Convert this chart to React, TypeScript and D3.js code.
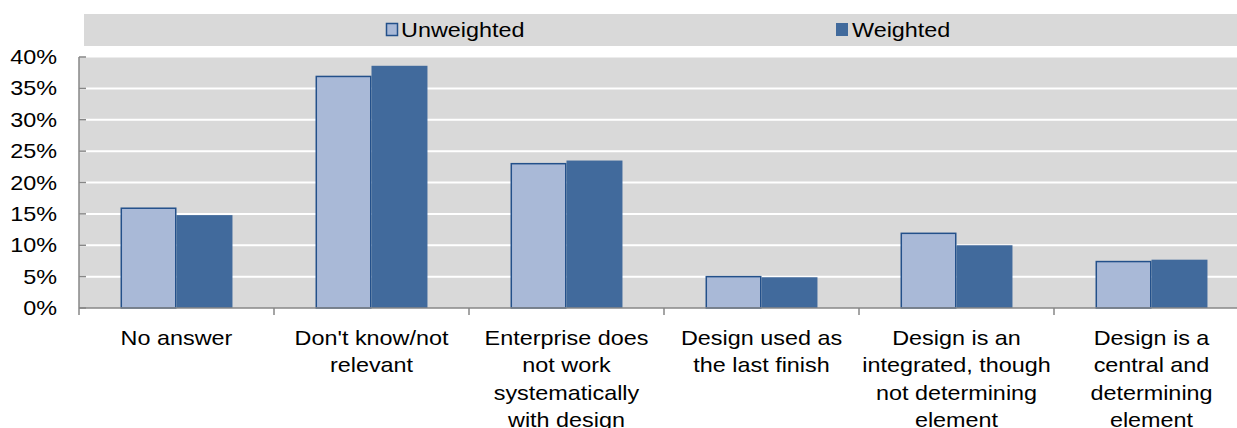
import React, { useEffect } from 'react';
import * as d3 from 'd3';

// chart data
const categories = [
  'No answer',
  "Don't know/not relevant",
  'Enterprise does not work systematically with design',
  'Design used as the last finish',
  'Design is an integrated, though not determining element',
  'Design is a central and determining element',
];
const categoryLines = [
  ['No answer'],
  ["Don't know/not", 'relevant'],
  ['Enterprise does', 'not work', 'systematically', 'with design'],
  ['Design used as', 'the last finish'],
  ['Design is an', 'integrated, though', 'not determining', 'element'],
  ['Design is a', 'central and', 'determining', 'element'],
];
const seriesNames = ['Unweighted', 'Weighted'];
const unweighted = [15.9, 36.9, 23.0, 5.0, 11.9, 7.4];
const weighted = [14.8, 38.6, 23.5, 4.9, 10.0, 7.7];
const yTicks = [0, 5, 10, 15, 20, 25, 30, 35, 40];

const W = 1237;
const H = 428;
const FONT = "'Liberation Sans', Arial, sans-serif";
const SX = 1.17; // the original picture is stretched horizontally

const fills = ['#A9B9D7', '#416A9C'];
const strokes = ['#23508A', 'none'];

const App = () => {
  useEffect(() => {
    document.body.style.margin = '0';
  }, []);

  const left = 79;
  const right = 1249; // plot runs past the picture's right edge
  const top = 57;
  const bottom = 308;

  const xCat = d3.scaleBand<string>().domain(categories).range([left, right]).padding(0);
  const x0 = d3.scaleBand<string>()
    .domain(categories)
    .range([left, right])
    .paddingInner(0.426)
    .paddingOuter(0.213);
  const x1 = d3.scaleBand<string>().domain(seriesNames).range([0, x0.bandwidth()]);
  const y = d3.scaleLinear().domain([0, 40]).range([bottom, top]);

  const values = [unweighted, weighted];

  return (
    <svg width={W} height={H} style={{ display: 'block', background: '#fff' }}>
      {/* legend */}
      <rect x={84} y={14} width={right - 84} height={32} fill="#D9D9D9" />
      <rect x={386.5} y={23.5} width={11} height={12} fill={fills[0]} stroke={strokes[0]} strokeWidth={1.5} />
      <text transform={`translate(401,37) scale(${SX},1)`} fontFamily={FONT} fontSize={20} fill="#000">
        {seriesNames[0]}
      </text>
      <rect x={836} y={23} width={12} height={13} fill={fills[1]} />
      <text transform={`translate(852,37) scale(${SX},1)`} fontFamily={FONT} fontSize={20} fill="#000">
        {seriesNames[1]}
      </text>

      {/* plot background */}
      <rect x={left} y={top} width={right - left} height={bottom - top} fill="#D9D9D9" />
      {yTicks.filter(t => t > 0).map(t => (
        <line key={t} x1={left} x2={right} y1={y(t)} y2={y(t)} stroke="#fff" strokeWidth={t === 40 ? 1 : 2} />
      ))}

      {/* bars */}
      {categories.map((c, i) => (
        <g key={c} transform={`translate(${x0(c)},0)`}>
          {seriesNames.map((s, j) => (
            <rect
              key={s}
              x={x1(s)! + (j === 0 ? 0.75 : 0)}
              y={y(values[j][i])}
              width={x1.bandwidth() - (j === 0 ? 1.5 : 0)}
              height={y(0) - y(values[j][i])}
              fill={fills[j]}
              stroke={strokes[j]}
              strokeWidth={1.5}
            />
          ))}
        </g>
      ))}

      {/* y axis */}
      <line x1={left} x2={left} y1={top} y2={bottom + 7} stroke="#878787" strokeWidth={1.5} />
      {yTicks.map(t => (
        <g key={t}>
          <line x1={left} x2={left + 7} y1={y(t)} y2={y(t)} stroke="#878787" strokeWidth={1.5} />
          <text
            transform={`translate(57,${y(t) + 7}) scale(${SX},1)`}
            textAnchor="end"
            fontFamily={FONT}
            fontSize={20}
            fill="#000"
          >
            {t}%
          </text>
        </g>
      ))}

      {/* x axis */}
      <line x1={left} x2={right} y1={bottom} y2={bottom} stroke="#878787" strokeWidth={1.5} />
      {categories.map(c => (
        <line key={c} x1={xCat(c)! + xCat.bandwidth()} x2={xCat(c)! + xCat.bandwidth()} y1={bottom} y2={bottom + 7} stroke="#878787" strokeWidth={1.5} />
      ))}
      {categories.map((c, i) => (
        <g key={c}>
          {categoryLines[i].map((line, k) => (
            <text
              key={k}
              transform={`translate(${xCat(c)! + xCat.bandwidth() / 2},${345 + k * 27.3}) scale(${SX},1)`}
              textAnchor="middle"
              fontFamily={FONT}
              fontSize={20}
              fill="#000"
            >
              {line}
            </text>
          ))}
        </g>
      ))}
    </svg>
  );
};

export default App;
